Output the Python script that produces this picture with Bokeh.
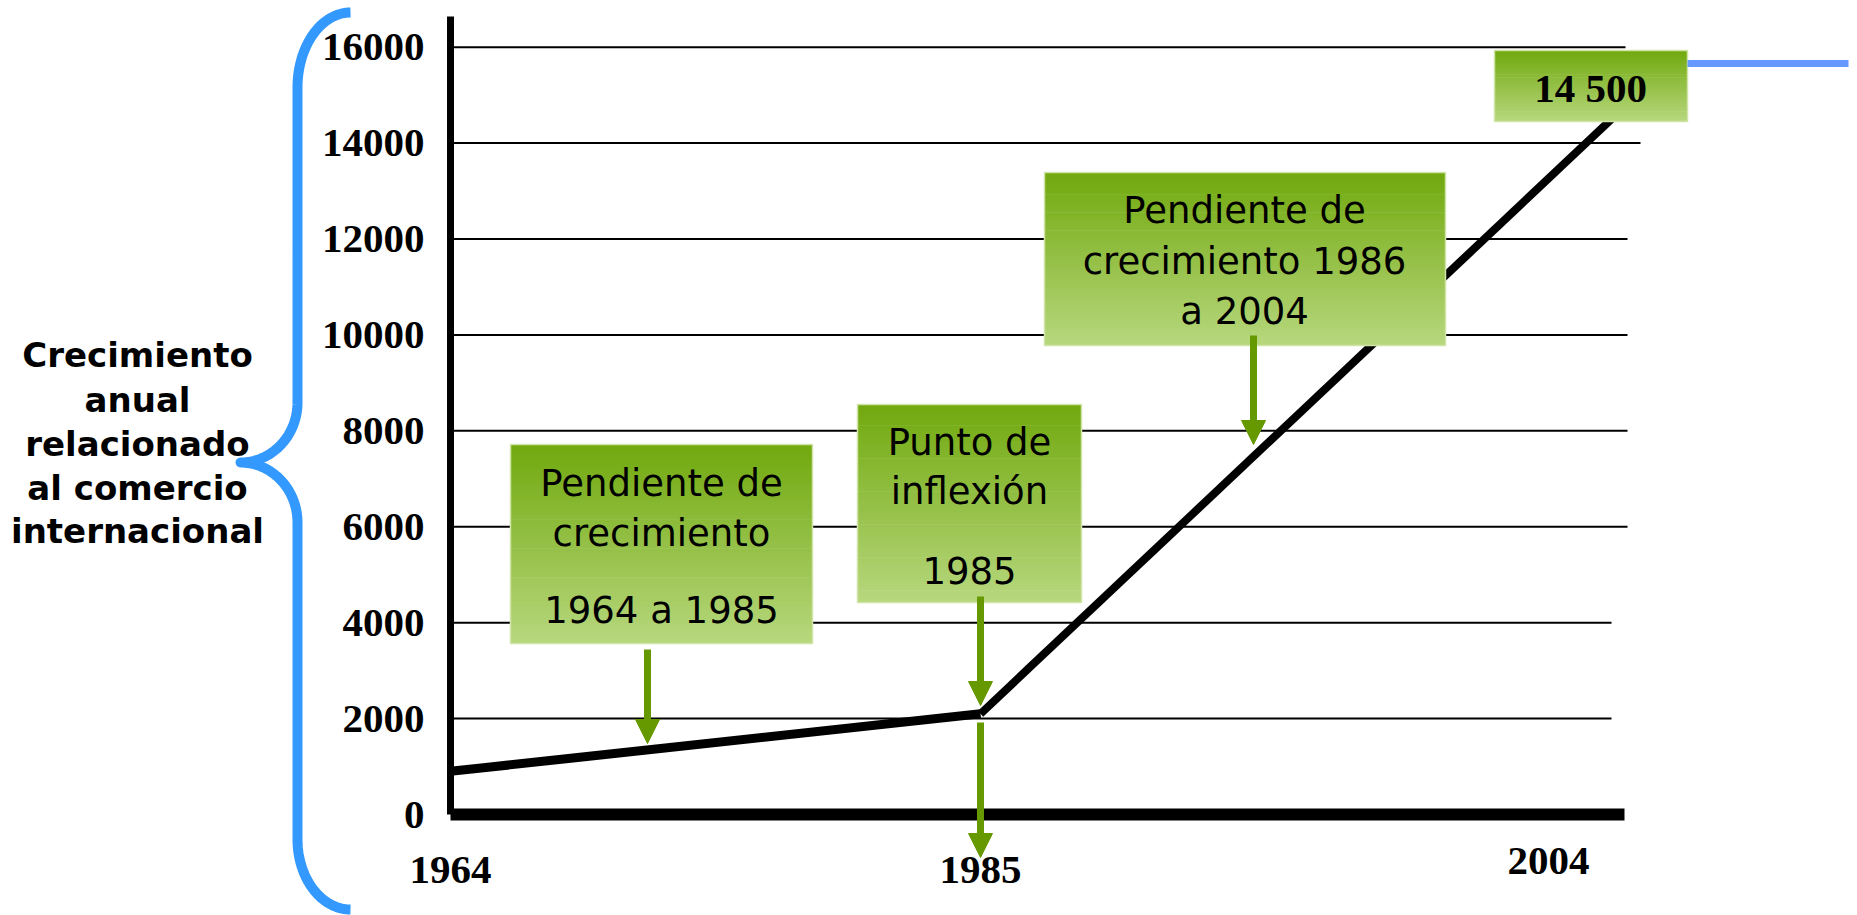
import numpy as np
from bokeh.plotting import figure
from bokeh.models import Range1d, LinearAxis, FixedTicker, Arrow, NormalHead
from bokeh.core.properties import value
from bokeh.embed import file_html
from bokeh.resources import INLINE

# ---------------- data ----------------
years = [1964, 1985, 2004]
growth = [900, 2100, 14500]
y_ticks = [0, 2000, 4000, 6000, 8000, 10000, 12000, 14000, 16000]
x_ticks_early = [1964, 1985]
x_ticks_late = [2004]
end_label = "14 500"
title_lines = ["Crecimiento", "anual", "relacionado", "al comercio", "internacional"]
box_a_lines = ["Pendiente de", "crecimiento", "1964 a 1985"]
box_b_lines = ["Punto de", "inflexión", "1985"]
box_c_lines = ["Pendiente de", "crecimiento 1986", "a 2004"]

# ---------------- layout / style ----------------
W, H = 1857, 915


def anchored(v0, p0, v1, p1, size):
    k = (p1 - p0) / (v1 - v0)
    start = v0 - p0 / k
    return Range1d(start=start, end=start + size / k)


# pixel anchors (x from left, y from bottom)
xr = anchored(1964, 450, 1985, 980, W)
late_line = anchored(1985, 980, 2004, 1611, W)
late_axis = anchored(1985, 980, 2004, 1548, W)
yr = anchored(0, H - 814, 16000, H - 46.7, H)

p = figure(width=W, height=H, x_range=xr, y_range=yr, output_backend="svg",
           toolbar_location=None, x_axis_location=None, y_axis_location=None,
           min_border=0, outline_line_color=None, background_fill_color="white",
           border_fill_color="white")
p.grid.visible = False
p.extra_x_ranges = {"late_line": late_line, "late_axis": late_axis,
                    "px": Range1d(0, W)}
p.extra_y_ranges = {"py": Range1d(H, 0)}

TICK_FONT = "Liberation Serif"
BOX_FONT = "DejaVu Sans"
GREEN_ARROW = "#669900"

common_axis = dict(major_tick_line_color=None, minor_tick_line_color=None,
                   major_label_text_font=TICK_FONT, major_label_text_font_style="bold",
                   major_label_text_font_size="41px", major_label_text_color="black")

yax = LinearAxis(fixed_location=years[0], ticker=FixedTicker(ticks=y_ticks),
                 bounds=(0, 16640), axis_line_width=7, axis_line_color="black",
                 major_label_standoff=20, **common_axis)
p.add_layout(yax, "left")

xax = LinearAxis(fixed_location=0, ticker=FixedTicker(ticks=x_ticks_early),
                 bounds=(years[0], 2010.5), axis_line_width=12, axis_line_color="black",
                 major_label_standoff=36, **common_axis)
p.add_layout(xax, "below")

xax2 = LinearAxis(fixed_location=0, x_range_name="late_axis",
                  ticker=FixedTicker(ticks=x_ticks_late), axis_line_color=None,
                  major_label_standoff=27, **common_axis)
p.add_layout(xax2, "below")

# horizontal gridlines (lengths differ slightly, as in the slide)
grid_end_px = [1611, 1611, 1627, 1627, 1627, 1627, 1640, 1625]
p.segment(x0=[450] * len(grid_end_px), x1=grid_end_px, y0=y_ticks[1:], y1=y_ticks[1:],
          x_range_name="px", line_color="black", line_width=2)

# data line: two segments (the slide stretches the second period)
p.line(years[:2], growth[:2], line_width=9, line_color="black")
p.line(years[1:], growth[1:], line_width=8, line_color="black", x_range_name="late_line")

# gradient boxes
TOP = np.array([114, 170, 16])
BOT = np.array([183, 215, 125])


def grad_box(l, r, t, b, n=48):
    edges = np.linspace(t, b, n + 1)
    cols = []
    for i in range(n):
        f = i / (n - 1)
        c = (TOP * (1 - f) + BOT * f).astype(int)
        cols.append("#%02x%02x%02x" % tuple(c))
    p.quad(left=[l] * n, right=[r] * n, top=list(edges[:-1]),
           bottom=list(np.minimum(edges[1:] + 0.7, b)), fill_color=cols,
           line_color=None, x_range_name="px", y_range_name="py")
    p.quad(left=[l], right=[r], top=[t], bottom=[b], fill_color=None,
           line_color="#cfe4a6", line_width=1.5, x_range_name="px", y_range_name="py")


boxes = {
    "a": (510, 812, 444, 643),
    "b": (857, 1081, 404, 602),
    "c": (1044, 1445, 172, 345),
    "d": (1494, 1687, 50, 121),
}
for k in ["a", "b", "c", "d"]:
    grad_box(*boxes[k])


def texts(lines, cx, ys, font, size, style="normal"):
    p.text(x=[cx] * len(lines), y=ys, text=lines, text_font=value(font),
           text_font_size=size, text_font_style=style, text_color="black",
           text_align="center", text_baseline="middle",
           x_range_name="px", y_range_name="py")


texts(box_a_lines, 661, [483, 533, 610], BOX_FONT, "37px")
texts(box_b_lines, 969, [442, 491, 570], BOX_FONT, "37px")
texts(box_c_lines, 1244, [210, 261, 311], BOX_FONT, "37px")
texts([end_label], 1590, [87], TICK_FONT, "41px", "bold")

# left title
texts(title_lines, 137, [354, 399, 443, 487, 530], "DejaVu Sans", "34px", "bold")

# arrows
for (ax, y0, y1) in [(647, 649, 743), (980, 596, 705), (980, 722, 857), (1253, 335, 444)]:
    p.add_layout(Arrow(x_start=ax, y_start=y0, x_end=ax, y_end=y1,
                       line_color=GREEN_ARROW, line_width=7,
                       end=NormalHead(size=24, fill_color=GREEN_ARROW,
                                      line_color=GREEN_ARROW, line_width=1),
                       x_range_name="px", y_range_name="py"))

# blue brace
def arc(cx, cy, rx, ry, t0, t1, n=40):
    t = np.radians(np.linspace(t0, t1, n))
    return list(cx + rx * np.cos(t)), list(cy + ry * np.sin(t))


bx, by = [], []
for seg in [arc(350, 87, 53, 75, -90, -180), ([297, 297], [87, 402]),
            arc(240, 402, 57, 60, 0, 90), arc(240, 522, 57, 60, -90, 0),
            ([297, 297], [522, 839]), arc(350, 839, 53, 70, 180, 90)]:
    bx += seg[0]
    by += seg[1]
p.line(bx, by, line_color="#3399ff", line_width=10, line_join="round",
       x_range_name="px", y_range_name="py")

# blue rule on the right
p.segment(x0=[1687], x1=[1848], y0=[63], y1=[63], line_color="#6699ff", line_width=7,
          x_range_name="px", y_range_name="py")

open("out.html", "w").write(file_html(p, INLINE))
